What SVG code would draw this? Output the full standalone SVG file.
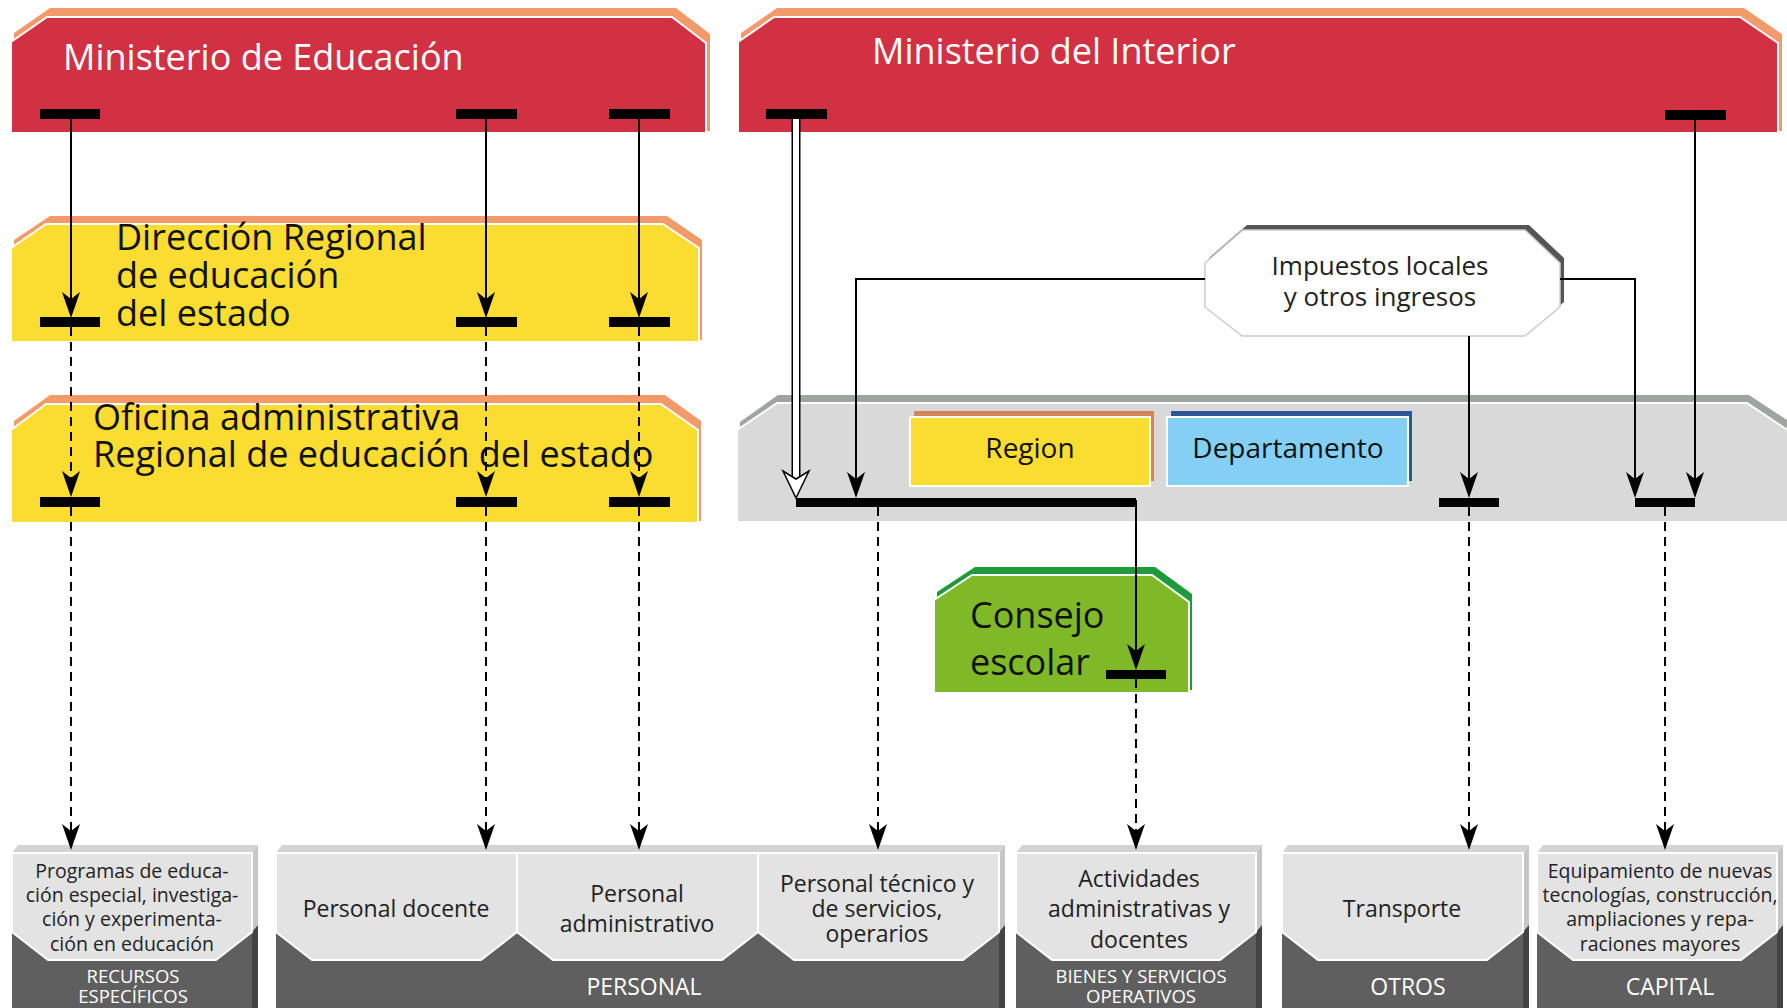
<svg xmlns="http://www.w3.org/2000/svg" width="1787" height="1008" viewBox="0 0 1787 1008">
<defs>
<style>
text{font-family:'Open Sans','Noto Sans','DejaVu Sans',sans-serif;}
.title{font-size:36px;fill:#fff;}
.lbl{font-size:36px;fill:#111;}
.mid{font-size:28px;fill:#111;text-anchor:middle;}
.imp{font-size:26px;fill:#222;text-anchor:middle;}
.bt{font-size:23px;fill:#222;text-anchor:middle;}
.bs{font-size:19.5px;fill:#222;text-anchor:middle;}
.wl{font-size:23px;fill:#fff;text-anchor:middle;}
.ws{font-size:18.5px;fill:#fff;text-anchor:middle;}
.red{fill:#d13142;stroke:#fff;stroke-width:2;}
.org{fill:#f39a6b;}
.yel{fill:#fbdc30;stroke:#fff;stroke-width:2;}
.face{fill:#5f5f5f;}
.panel{fill:#e3e3e3;stroke:#fff;stroke-width:2;}
.topstrip{fill:#d3d3d3;}
.sidel{fill:#c6c6c6;}
.sided{fill:#434343;}
.ln{fill:none;stroke:#000;stroke-width:2;}
.ds{fill:none;stroke:#000;stroke-width:2;stroke-dasharray:9 6;}
.bar{fill:#000;}
</style>
<marker id="ah" markerUnits="userSpaceOnUse" viewBox="-10 -11 30 22" refX="0" refY="0" markerWidth="30" markerHeight="22" orient="auto">
<path d="M18,0 L-8,-9 L-1,0 L-8,9 Z" fill="#000"/>
</marker>
<marker id="ahw" markerUnits="userSpaceOnUse" viewBox="-12 -15 32 30" refX="0" refY="0" markerWidth="32" markerHeight="30" orient="auto">
<path d="M18,0 L-9,-13 L-1,0 L-9,13 Z" fill="#fff" stroke="#000" stroke-width="1.5"/>
</marker>
</defs>

<g id="ministerio-educacion">
<polygon class="org" points="14,33 50,8 676,8 710,34 710,131 14,131"/>
<polygon class="red" points="11,42 47,17 672,17 706,43 706,133 11,133"/>
<text class="title" x="63" y="70">Ministerio de Educación</text>
</g>

<g id="ministerio-interior">
<polygon class="org" points="741,33 777,8 1744,8 1782,34 1782,131 741,131"/>
<polygon class="red" points="738,42 774,17 1740,17 1778,43 1778,133 738,133"/>
<text class="title" x="872" y="64">Ministerio del Interior</text>
</g>

<g id="direccion-regional">
<polygon class="org" points="14,240 50,216 667,216 702,240 702,340 14,340"/>
<polygon class="yel" points="11,248 46,224 663,224 699,248 699,342 11,342"/>
<text class="lbl" x="116" y="250">Dirección Regional</text>
<text class="lbl" x="116" y="288">de educación</text>
<text class="lbl" x="116" y="326">del estado</text>
</g>

<g id="oficina-administrativa">
<polygon class="org" points="14,421 50,395 665,395 701,421 701,521 14,521"/>
<polygon class="yel" points="11,430 46,404 661,404 698,430 698,523 11,523"/>
<text class="lbl" x="93" y="430">Oficina administrativa</text>
<text class="lbl" x="93" y="467">Regional de educación del estado</text>
</g>

<g id="gobierno-local">
<polygon fill="#9ca69f" points="740,422 778,395 1749,395 1790,422 1790,520 740,520"/>
<polygon fill="#d9d9d9" stroke="#fff" stroke-width="2" points="737,430 777,403 1747,403 1789,431 1789,522 737,522"/>
</g>

<g id="region">
<rect x="914" y="411" width="240" height="70" fill="#d4845a"/>
<rect x="910" y="417" width="240" height="69" fill="#fbdc30" stroke="#fff" stroke-width="2"/>
<text class="mid" x="1030" y="458">Region</text>
</g>

<g id="departamento">
<rect x="1171" y="411" width="241" height="70" fill="#2e5597"/>
<rect x="1167" y="417" width="241" height="69" fill="#84d0f5" stroke="#fff" stroke-width="2"/>
<text class="mid" x="1288" y="458">Departamento</text>
</g>

<g id="impuestos">
<polygon fill="#555" points="1209,258 1247,225 1529,225 1564,258 1564,302 1529,331 1246,331 1209,302"/>
<polygon fill="#fff" stroke="#ccc" stroke-width="1.5" points="1205,263 1243,230 1525,230 1560,263 1560,307 1525,336 1242,336 1205,307"/>
<text class="imp" x="1380" y="275">Impuestos locales</text>
<text class="imp" x="1380" y="306">y otros ingresos</text>
</g>

<g id="consejo-escolar">
<polygon fill="#1f9a3b" points="937,592 975,567 1155,567 1192,594 1192,690 937,690"/>
<polygon fill="#80b928" stroke="#fff" stroke-width="2" points="934,600 972,575 1152,575 1189,602 1189,693 934,693"/>
<text class="lbl" x="970" y="628">Consejo</text>
<text class="lbl" x="970" y="675">escolar</text>
</g>

<g id="recursos-especificos">
<rect class="face" x="12" y="853" width="240" height="155"/>
<polygon class="topstrip" points="12,853 18,845 258,845 252,853"/>
<polygon class="sidel" points="252,853 258,845 258,925 252,932"/>
<polygon class="sided" points="252,932 258,925 258,1008 252,1008"/>
<polygon class="panel" points="12,853 252,853 252,932 216,960 48,960 12,932"/>
<text class="bs" x="132" y="878">Programas de educa-</text>
<text class="bs" x="132" y="902">ción especial, investiga-</text>
<text class="bs" x="132" y="926">ción y experimenta-</text>
<text class="bs" x="132" y="951">ción en educación</text>
<text class="ws" x="133" y="983">RECURSOS</text>
<text class="ws" x="133" y="1003">ESPECÍFICOS</text>
</g>

<g id="personal">
<rect class="face" x="276" y="853" width="723" height="155"/>
<polygon class="topstrip" points="276,853 282,845 1005,845 999,853"/>
<polygon class="sidel" points="999,853 1005,845 1005,925 999,932"/>
<polygon class="sided" points="999,932 1005,925 1005,1008 999,1008"/>
<polygon class="panel" points="276,853 517,853 517,932 481,960 312,960 276,932"/>
<polygon class="panel" points="517,853 758,853 758,932 722,960 553,960 517,932"/>
<polygon class="panel" points="758,853 999,853 999,932 963,960 794,960 758,932"/>
<text class="bt" x="396" y="917">Personal docente</text>
<text class="bt" x="637" y="902">Personal</text>
<text class="bt" x="637" y="932">administrativo</text>
<text class="bt" x="877" y="892">Personal técnico y</text>
<text class="bt" x="877" y="917">de servicios,</text>
<text class="bt" x="877" y="942">operarios</text>
<text class="wl" x="644" y="995">PERSONAL</text>
</g>

<g id="bienes-servicios">
<rect class="face" x="1016" y="853" width="240" height="155"/>
<polygon class="topstrip" points="1016,853 1022,845 1262,845 1256,853"/>
<polygon class="sidel" points="1256,853 1262,845 1262,925 1256,932"/>
<polygon class="sided" points="1256,932 1262,925 1262,1008 1256,1008"/>
<polygon class="panel" points="1016,853 1256,853 1256,932 1220,960 1052,960 1016,932"/>
<text class="bt" x="1139" y="887">Actividades</text>
<text class="bt" x="1139" y="917">administrativas y</text>
<text class="bt" x="1139" y="948">docentes</text>
<text class="ws" x="1141" y="983">BIENES Y SERVICIOS</text>
<text class="ws" x="1141" y="1003">OPERATIVOS</text>
</g>

<g id="otros">
<rect class="face" x="1282" y="853" width="241" height="155"/>
<polygon class="topstrip" points="1282,853 1288,845 1529,845 1523,853"/>
<polygon class="sidel" points="1523,853 1529,845 1529,925 1523,932"/>
<polygon class="sided" points="1523,932 1529,925 1529,1008 1523,1008"/>
<polygon class="panel" points="1282,853 1523,853 1523,932 1487,960 1318,960 1282,932"/>
<text class="bt" x="1402" y="917">Transporte</text>
<text class="wl" x="1408" y="995">OTROS</text>
</g>

<g id="capital">
<rect class="face" x="1537" y="853" width="240" height="155"/>
<polygon class="topstrip" points="1537,853 1543,845 1783,845 1777,853"/>
<polygon class="sidel" points="1777,853 1783,845 1783,925 1777,932"/>
<polygon class="sided" points="1777,932 1783,925 1783,1008 1777,1008"/>
<polygon class="panel" points="1537,853 1777,853 1777,932 1741,960 1573,960 1537,932"/>
<text class="bs" x="1660" y="878">Equipamiento de nuevas</text>
<text class="bs" x="1660" y="902">tecnologías, construcción,</text>
<text class="bs" x="1660" y="926">ampliaciones y repa-</text>
<text class="bs" x="1660" y="951">raciones mayores</text>
<text class="wl" x="1670" y="995">CAPITAL</text>
</g>

<g id="connectors">
<rect class="bar" x="40" y="109" width="60" height="10"/>
<rect class="bar" x="456" y="109" width="61" height="10"/>
<rect class="bar" x="609" y="109" width="61" height="10"/>
<rect class="bar" x="40" y="317" width="60" height="10"/>
<rect class="bar" x="456" y="317" width="61" height="10"/>
<rect class="bar" x="609" y="317" width="61" height="10"/>
<rect class="bar" x="40" y="497" width="60" height="10"/>
<rect class="bar" x="456" y="497" width="61" height="10"/>
<rect class="bar" x="609" y="497" width="61" height="10"/>
<rect class="bar" x="766" y="109" width="61" height="10"/>
<rect class="bar" x="1665" y="110" width="61" height="10"/>
<rect class="bar" x="796" y="498" width="340" height="9"/>
<rect class="bar" x="1439" y="498" width="60" height="9"/>
<rect class="bar" x="1635" y="498" width="60" height="9"/>
<rect class="bar" x="1106" y="670" width="60" height="9"/>

<path class="ln" d="M71,119 V300" marker-end="url(#ah)"/>
<path class="ln" d="M486,119 V300" marker-end="url(#ah)"/>
<path class="ln" d="M639,119 V300" marker-end="url(#ah)"/>
<path class="ds" d="M71,327 V479" marker-end="url(#ah)"/>
<path class="ds" d="M486,327 V479" marker-end="url(#ah)"/>
<path class="ds" d="M639,327 V479" marker-end="url(#ah)"/>
<path class="ds" d="M71,507 V832" marker-end="url(#ah)"/>
<path class="ds" d="M486,507 V832" marker-end="url(#ah)"/>
<path class="ds" d="M639,507 V832" marker-end="url(#ah)"/>

<path fill="none" stroke="#000" stroke-width="9" d="M796,119 V480"/>
<path fill="none" stroke="#fff" stroke-width="6" d="M796,119 V480" marker-end="url(#ahw)"/>
<path class="ln" d="M1695,119 V480" marker-end="url(#ah)"/>
<path class="ln" d="M1205,279 H856 V480" marker-end="url(#ah)"/>
<path class="ln" d="M1560,279 H1635 V480" marker-end="url(#ah)"/>
<path class="ln" d="M1469,336 V480" marker-end="url(#ah)"/>
<path class="ln" d="M1136,500 V652" marker-end="url(#ah)"/>
<path class="ds" d="M878,507 V832" marker-end="url(#ah)"/>
<path class="ds" d="M1136,679 V832" marker-end="url(#ah)"/>
<path class="ds" d="M1469,507 V832" marker-end="url(#ah)"/>
<path class="ds" d="M1665,507 V832" marker-end="url(#ah)"/>
</g>
</svg>
